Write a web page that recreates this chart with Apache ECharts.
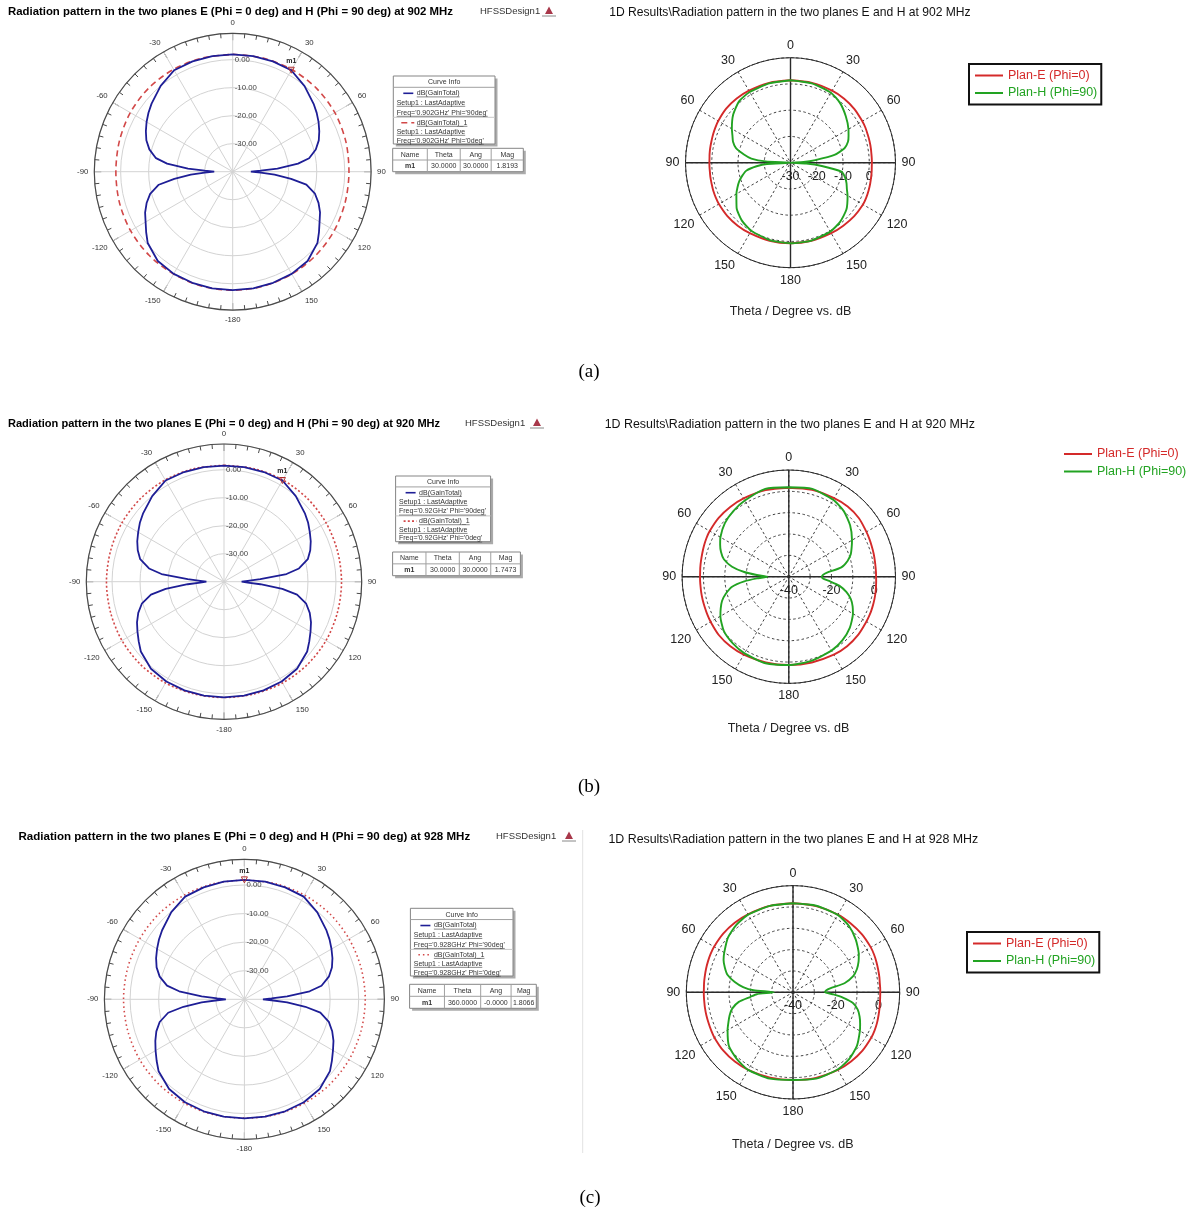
<!DOCTYPE html>
<html><head><meta charset="utf-8">
<script src="https://cdn.jsdelivr.net/npm/echarts@6/dist/echarts.min.js"></script>
<style>html,body{margin:0;padding:0;background:#fff}#c{width:1195px;height:1221px}</style>
</head><body><div id="c"></div>
<script>
// ================= DATA =================
const hfssTitles = [
  'Radiation pattern in the two planes E (Phi = 0 deg) and H (Phi = 90 deg) at 902 MHz',
  'Radiation pattern in the two planes E (Phi = 0 deg) and H (Phi = 90 deg) at 920 MHz',
  'Radiation pattern in the two planes E (Phi = 0 deg) and H (Phi = 90 deg) at 928 MHz'];
const cstTitles = [
  '1D Results\\Radiation pattern in the two planes E and H at 902 MHz',
  '1D Results\\Radiation pattern in the two planes E and H at 920 MHz',
  '1D Results\\Radiation pattern in the two planes E and H at 928 MHz'];
const captions = ['(a)', '(b)', '(c)'];
const designName = 'HFSSDesign1';
const cstXLabel = 'Theta / Degree vs. dB';
const cstSeriesNames = ['Plan-E (Phi=0)', 'Plan-H (Phi=90)'];
const hfssSeriesNames = ['dB(GainTotal)', 'dB(GainTotal)_1'];
const curveInfo = [
  ['dB(GainTotal)', 'Setup1 : LastAdaptive', "Freq='0.902GHz' Phi='90deg'", 'dB(GainTotal)_1', 'Setup1 : LastAdaptive', "Freq='0.902GHz' Phi='0deg'"],
  ['dB(GainTotal)', 'Setup1 : LastAdaptive', "Freq='0.92GHz' Phi='90deg'", 'dB(GainTotal)_1', 'Setup1 : LastAdaptive', "Freq='0.92GHz' Phi='0deg'"],
  ['dB(GainTotal)', 'Setup1 : LastAdaptive', "Freq='0.928GHz' Phi='90deg'", 'dB(GainTotal)_1', 'Setup1 : LastAdaptive', "Freq='0.928GHz' Phi='0deg'"]];
const markerHeader = ['Name', 'Theta', 'Ang', 'Mag'];
const markerRows = [['m1', '30.0000', '30.0000', '1.8193'], ['m1', '30.0000', '30.0000', '1.7473'], ['m1', '360.0000', '-0.0000', '1.8066']];
const markerTheta = [30, 30, 360];
const markerMag = [1.8193, 1.7473, 1.8066];

// angle tick labels (every 30 deg, clockwise from top)
const hfssTickLabels = ['0', '30', '60', '90', '120', '150', '-180', '-150', '-120', '-90', '-60', '-30'];
const cstTickLabels = ['0', '30', '60', '90', '120', '150', '180', '150', '120', '90', '60', '30'];
const hfssRingVals = [-30, -20, -10, 0];
const hfssRingText = ['-30.00', '-20.00', '-10.00', '0.00'];
const cstRingValsA = [-30, -20, -10, 0];
const cstRingTextA = ['-30', '-20', '-10', '0'];
const cstRingValsBC = [-40, -20, 0];
const cstRingTextBC = ['-40', '-20', '0'];

// HFSS curves (theta deg, dB)
const thetaHfss = [0,10,20,30,40,50,55,60,65,70,75,80,83,86,88,90,92,94,97,100,105,110,115,120,125,130,140,150,160,170,180,
  190,200,210,220,230,235,240,245,250,255,260,263,266,268,270,272,274,277,280,285,290,295,300,305,310,320,330,340,350,360];
const aBlue = [1.9,1.9,1.9,1.8,-0.1,-2.3,-3.4,-4.6,-5.9,-7.3,-9.3,-12.3,-16.5,-24,-30,-33.5,-30,-25,-19,-13.3,-9.6,-7.4,-5.6,-4.2,-2.4,-0.5,1.6,2.1,2.2,2.3,2.3,
  2.3,2.2,2.1,1.6,-0.4,-2.3,-4.1,-5.5,-7.3,-9.5,-13.2,-19,-25,-30,-33.4,-30,-24,-16.4,-12.2,-9.2,-7.2,-5.8,-4.5,-3.3,-2.2,0.0,1.8,1.9,1.9,1.9];
const bBlue = [1.5,1.6,1.7,1.75,-0.1,-2.2,-3.3,-4.6,-5.8,-7.2,-9.0,-12.8,-17.5,-27,-31.5,-33.7,-31.5,-27,-19,-13.5,-9.6,-7.4,-5.7,-4.3,-2.8,-1.2,0.6,1.2,1.3,1.3,1.3,
  1.3,1.3,1.2,0.6,-1.2,-2.8,-4.3,-5.7,-7.4,-9.6,-13.5,-19,-27,-31.5,-33.7,-31.5,-27,-17.5,-12.8,-9.0,-7.2,-5.8,-4.6,-3.3,-2.2,-0.1,1.75,1.7,1.6,1.5];
const cBlue = [1.8,1.8,1.7,1.5,-0.3,-2.5,-3.6,-4.8,-6.0,-7.4,-9.4,-12.6,-17,-25,-30.5,-33.5,-30.5,-25,-18.5,-13,-9.4,-7.3,-5.6,-4.2,-2.6,-0.9,1.0,1.6,1.7,1.7,1.7,
  1.7,1.7,1.6,1.0,-0.8,-2.5,-4.1,-5.6,-7.2,-9.3,-12.9,-18.5,-25,-30.5,-33.5,-30.5,-25,-17,-12.5,-9.3,-7.3,-5.9,-4.7,-3.5,-2.4,-0.2,1.5,1.7,1.8,1.8];
const thetaRed = [0,15,30,45,60,75,90,105,120,135,150,165,180,195,210,225,240,255,270,285,300,315,330,345,360];
const aRed = [1.9,2.0,2.1,2.2,2.1,1.8,1.5,1.6,1.9,2.1,2.2,2.3,2.3,2.3,2.2,2.2,2.1,1.9,1.7,1.9,2.2,2.3,2.2,2.0,1.9];
const bRed = [1.6,1.8,2.0,2.1,2.1,2.0,2.0,2.0,2.1,2.0,1.8,1.5,1.4,1.5,1.8,2.0,2.1,2.0,2.0,2.0,2.1,2.1,2.0,1.8,1.6];
const cRed = [1.8,1.9,2.1,2.3,2.3,2.3,2.3,2.3,2.3,2.2,2.0,1.8,1.6,1.8,2.0,2.2,2.3,2.3,2.3,2.3,2.3,2.3,2.1,1.9,1.8];

// CST curves (theta deg, dB)
const thetaCst = [0,15,30,40,50,60,65,70,75,80,84,87,90,93,96,100,105,110,115,120,130,140,150,165,180,
  195,210,220,230,240,245,250,255,260,264,267,270,273,276,280,285,290,295,300,310,320,330,345,360];
const aGreen = [1.4,1.3,0.8,-0.5,-2.5,-4.5,-5.6,-6.7,-8.7,-13,-20.5,-25,-30,-24,-18,-10.3,-8.5,-7.3,-6.3,-4.9,-2.2,-0.6,0.3,0.7,0.7,
  0.5,-0.1,-1.2,-3.2,-6.2,-7.7,-9.2,-11.0,-13,-17,-21,-30,-20.5,-15,-12,-8.5,-6.7,-5.6,-4.2,-1.5,0.5,1.1,1.3,1.4];
const aRedCst = [1.4,1.5,1.7,1.8,1.8,1.6,1.5,1.3,1.2,1.1,1.0,1.0,1.0,1.0,1.1,1.2,1.4,1.6,1.8,1.9,1.7,1.3,1.0,0.8,0.7,
  0.8,1.0,1.3,1.5,1.5,1.4,1.3,1.1,1.0,0.9,0.9,0.9,0.9,1.0,1.1,1.2,1.4,1.6,1.8,2.0,1.9,1.7,1.5,1.4];
const bGreen = [1.9,2.6,1.6,0.1,-2.5,-5.8,-7.5,-9.1,-11.5,-15,-22,-24,-24.5,-24,-21,-16,-12,-9.0,-7.0,-5.3,-2.7,-1.0,0.0,0.8,1.4,
  2.0,1.5,0.8,-0.3,-3.0,-4.8,-6.7,-9.5,-13,-19,-25,-30,-25,-19,-13,-8.5,-6.2,-4.5,-3.0,-0.9,0.3,1.2,2.6,1.9];
const bRedCst = [1.7,2.1,2.5,2.9,2.8,2.0,1.7,1.4,1.2,1.0,0.9,0.9,0.9,1.0,1.1,1.3,1.5,1.7,1.9,2.0,2.4,2.5,2.2,1.6,1.4,
  1.6,2.2,2.6,2.7,2.3,2.1,1.9,1.8,1.7,1.6,1.6,1.6,1.6,1.7,1.8,2.0,2.3,2.6,2.8,2.9,2.7,2.4,2.0,1.7];
const cGreen = [1.7,2.0,1.9,0.7,-1.6,-4.4,-6.1,-8.1,-10.8,-15.5,-22.5,-24.5,-25,-21,-16.5,-11.6,-8.6,-6.8,-5.3,-3.8,-0.9,0.9,1.8,1.9,1.1,
  1.9,2.0,0.9,-0.8,-4.6,-6.6,-8.4,-10.5,-14.2,-20,-23,-31,-21.5,-16.5,-12.3,-8.2,-6.0,-4.1,-2.8,-0.2,1.3,2.0,1.9,1.7];
const cRedCst = [1.7,1.8,2.0,2.1,2.2,2.1,1.9,1.6,1.3,1.1,0.9,0.9,0.9,0.9,1.0,1.2,1.5,1.9,2.2,2.4,2.5,2.3,2.0,1.5,1.1,
  1.4,2.0,2.4,2.6,2.5,2.3,2.1,2.0,1.9,1.8,1.8,1.8,1.8,1.9,2.0,2.2,2.4,2.6,2.7,2.7,2.5,2.2,1.9,1.7];

// ================= LAYOUT / STYLE =================
const FS = '"Liberation Sans", Arial, sans-serif';
const FSERIF = '"Liberation Serif", "Times New Roman", serif';
const C = {
  hfssBlue: '#1e1e96', hfssRed: '#d24848', hfssGrid: '#d3d3d3', hfssRing: '#4a4a4a',
  cstRed: '#d42a2a', cstGreen: '#22a322', cstGrid: '#2a2a2a', text: '#222'
};
const hfssPanels = [
  {cx: 232.7, cy: 171.7, r: 138.4, max: 9.4, redDash: [6, 4],
   title: {x: 8, y: 11.7, w: 445.3}, design: {x: 480, y: 11.7}, logo: {x: 549, y: 11},
   box: {x: 393.3, y: 76, w: 101.7, h: 68}, table: {x: 392.7, y: 148.3, w: 130.6, h: 23.4, cols: [0.265, 0.517, 0.754]}},
  {cx: 224, cy: 581.7, r: 137.7, max: 9.2, redDash: [2, 2.2],
   title: {x: 8, y: 423.5, w: 432.7}, design: {x: 465, y: 423.3}, logo: {x: 537, y: 423},
   box: {x: 395.6, y: 476, w: 95, h: 65.7}, table: {x: 392.6, y: 552, w: 127.8, h: 23.7, cols: [0.261, 0.522, 0.768]}},
  {cx: 244.4, cy: 999.3, r: 140, max: 9, redDash: [1.5, 3],
   title: {x: 18.5, y: 836.7, w: 451.9}, design: {x: 496, y: 836}, logo: {x: 569, y: 836},
   box: {x: 410.4, y: 908.3, w: 102.6, h: 67.7}, table: {x: 409.6, y: 984.3, w: 126.7, h: 24, cols: [0.275, 0.561, 0.801]}}
];
const cstPanels = [
  {cx: 790.5, cy: 162.7, r: 105, min: -30, ringVals: cstRingValsA, ringText: cstRingTextA,
   title: {x: 609.2, y: 13, w: 361.6}, xlabel: {x: 790.5, y: 311.7}, legend: {x: 969, y: 64, box: true}},
  {cx: 788.8, cy: 576.7, r: 106.7, min: -40, ringVals: cstRingValsBC, ringText: cstRingTextBC,
   title: {x: 604.7, y: 425, w: 370.6}, xlabel: {x: 788.5, y: 729}, legend: {x: 1064, y: 447.5, box: false}},
  {cx: 793, cy: 992.3, r: 106.7, min: -40, ringVals: cstRingValsBC, ringText: cstRingTextBC,
   title: {x: 608.4, y: 840, w: 370}, xlabel: {x: 792.7, y: 1145}, legend: {x: 967, y: 932, box: true}}
];
const captionPos = [{x: 589, y: 372}, {x: 589, y: 787}, {x: 590, y: 1198}];

// ================= HELPERS =================
const mctx = document.createElement('canvas').getContext('2d');
function measure(text, font) { mctx.font = font; return mctx.measureText(text).width; }
function fitSize(text, weight, family, width) { return 100 * width / measure(text, weight + ' 100px ' + family); }
function pairs(thetas, vals) { return thetas.map((t, i) => [vals[i], t]); }
function txt(x, y, s, font, fill, align, z) {
  return {type: 'text', x: x, y: y, z: z || 20, silent: true,
    style: {text: s, font: font, fill: fill || C.text, align: align || 'left', verticalAlign: 'middle'}};
}
function line(x1, y1, x2, y2, stroke, lw, dash, z) {
  return {type: 'line', z: z || 20, silent: true, shape: {x1, y1, x2, y2},
    style: {stroke, lineWidth: lw || 1, lineDash: dash || null}};
}
function rect(x, y, w, h, fill, stroke, z) {
  return {type: 'rect', z: z || 18, silent: true, shape: {x, y, width: w, height: h},
    style: {fill: fill || 'none', stroke: stroke || null, lineWidth: 1}};
}
function ringFormatter(vals, texts) {
  return v => { const k = vals.indexOf(Math.round(v * 1000) / 1000); return k < 0 ? '' : texts[k]; };
}
function tickFormatter(labels) {
  return v => (v >= 360 ? '' : labels[Math.round(v / 30)]);
}

// ================= BUILD =================
const polar = [], angleAxis = [], radiusAxis = [], series = [], legend = [], elements = [];
const hfssData = [[aBlue, aRed], [bBlue, bRed], [cBlue, cRed]];
const cstData = [[aRedCst, aGreen], [bRedCst, bGreen], [cRedCst, cGreen]];

for (let k = 0; k < 3; k++) {
  // ---------- HFSS (left) ----------
  const P = hfssPanels[k];
  let pi = polar.length;
  polar.push({center: [P.cx, P.cy], radius: P.r});
  angleAxis.push({polarIndex: pi, type: 'value', min: 0, max: 360, interval: 30, startAngle: 90, clockwise: true,
    axisLine: {show: true, lineStyle: {color: C.hfssRing, width: 1.2}},
    axisTick: {show: true, inside: true, length: 7, lineStyle: {color: C.hfssRing}},
    minorTick: {show: true, splitNumber: 6, length: 4.5, lineStyle: {color: C.hfssRing}},
    axisLabel: {show: true, margin: 6, fontSize: 7.8, color: '#333', fontFamily: FS, formatter: tickFormatter(hfssTickLabels)},
    splitLine: {show: true, lineStyle: {color: C.hfssGrid, width: 1}}});
  radiusAxis.push({polarIndex: pi, type: 'value', min: -40, max: P.max, interval: 10,
    axisLine: {show: false}, axisTick: {show: false},
    axisLabel: {show: true, margin: -2, align: 'left', verticalAlign: 'middle', fontSize: 7.8, color: '#444', fontFamily: FS,
      formatter: ringFormatter(hfssRingVals, hfssRingText)},
    splitLine: {show: true, lineStyle: {color: C.hfssGrid, width: 1}}});
  series.push({type: 'line', name: hfssSeriesNames[1], coordinateSystem: 'polar', polarIndex: pi, showSymbol: false, symbol: 'none',
    color: C.hfssRed, lineStyle: {color: C.hfssRed, width: 1.6, type: P.redDash}, z: 3,
    data: pairs(thetaRed, hfssData[k][1]), smooth: 0.3});
  series.push({type: 'line', name: hfssSeriesNames[0], coordinateSystem: 'polar', polarIndex: pi, showSymbol: false, symbol: 'none',
    color: C.hfssBlue, lineStyle: {color: C.hfssBlue, width: 1.8}, z: 4,
    data: pairs(thetaHfss, hfssData[k][0]),
    markPoint: {symbol: 'triangle', symbolSize: 6, symbolRotate: 180,
      itemStyle: {color: 'rgba(0,0,0,0)', borderColor: '#b03030', borderWidth: 1},
      label: {show: true, position: 'top', distance: 2, formatter: markerRows[k][0], fontSize: 7, fontWeight: 'bold', color: '#222', fontFamily: FS},
      data: [{coord: [markerMag[k], markerTheta[k]]}]}});

  // title, design name, logo
  const tFont = 'bold ' + fitSize(hfssTitles[k], 'bold', FS, P.title.w).toFixed(2) + 'px ' + FS;
  elements.push(txt(P.title.x, P.title.y, hfssTitles[k], tFont, '#000'));
  elements.push(txt(P.design.x, P.design.y, designName, '9.5px ' + FS, '#333'));
  elements.push({type: 'polygon', z: 20, silent: true, shape: {points: [[P.logo.x - 4, P.logo.y + 3], [P.logo.x, P.logo.y - 4.5], [P.logo.x + 4, P.logo.y + 3]]}, style: {fill: '#a8384a'}});
  elements.push(line(P.logo.x - 7, P.logo.y + 5, P.logo.x + 7, P.logo.y + 5, '#888', 1));

  // curve info box
  const B = P.box, s = B.h / 68, ci = curveInfo[k], f7 = '7px ' + FS;
  elements.push(rect(B.x + 2.5, B.y + 2.5, B.w, B.h, '#ababab', null, 17));
  elements.push(rect(B.x, B.y, B.w, B.h, '#fff', '#858585', 18));
  elements.push(txt(B.x + B.w / 2, B.y + 6.3 * s, 'Curve Info', f7, '#333', 'center'));
  elements.push(line(B.x, B.y + 11.3 * s, B.x + B.w, B.y + 11.3 * s, '#a0a0a0', 1));
  elements.push(line(B.x, B.y + 41.3 * s, B.x + B.w, B.y + 41.3 * s, '#c8c8c8', 1));
  const rows = [[17.3, 23.5], [26.7, 3.4], [36.7, 3.4], [46.7, 23.5], [55.7, 3.4], [64.7, 3.4]];
  rows.forEach((rw, j) => {
    const yy = B.y + rw[0] * s, xx = B.x + rw[1];
    elements.push(txt(xx, yy, ci[j], f7, '#333'));
    const w = measure(ci[j], f7);
    elements.push(line(xx, yy + 3.6, xx + w, yy + 3.6, '#555', 0.7));
  });
  elements.push(line(B.x + 10, B.y + 17.3 * s, B.x + 20, B.y + 17.3 * s, C.hfssBlue, 1.6));
  elements.push(line(B.x + 8, B.y + 46.7 * s, B.x + 21, B.y + 46.7 * s, C.hfssRed, 1.6, P.redDash));

  // marker table
  const T = P.table, xs = [0].concat(T.cols, [1]).map(f => T.x + f * T.w);
  elements.push(rect(T.x + 2.5, T.y + 2.5, T.w, T.h, '#ababab', null, 17));
  elements.push(rect(T.x, T.y, T.w, T.h, '#fff', '#858585', 18));
  elements.push(line(T.x, T.y + T.h / 2, T.x + T.w, T.y + T.h / 2, '#a0a0a0', 1));
  for (let c = 1; c < 4; c++) elements.push(line(xs[c], T.y, xs[c], T.y + T.h, '#a0a0a0', 1));
  for (let c = 0; c < 4; c++) {
    const xm = (xs[c] + xs[c + 1]) / 2;
    elements.push(txt(xm, T.y + T.h * 0.27, markerHeader[c], f7, '#333', 'center'));
    elements.push(txt(xm, T.y + T.h * 0.77, markerRows[k][c], (c === 0 ? 'bold ' : '') + f7, '#333', 'center'));
  }

  // ---------- CST (right) ----------
  const Q = cstPanels[k];
  pi = polar.length;
  polar.push({center: [Q.cx, Q.cy], radius: Q.r});
  angleAxis.push({polarIndex: pi, type: 'value', min: 0, max: 360, interval: 30, startAngle: 90, clockwise: true,
    axisLine: {show: true, lineStyle: {color: C.cstGrid, width: 1}}, axisTick: {show: false},
    axisLabel: {show: true, margin: 6, fontSize: 12.5, color: C.text, fontFamily: FS, formatter: tickFormatter(cstTickLabels)},
    splitLine: {show: true, lineStyle: {color: C.cstGrid, width: 0.9, type: [2.5, 2.5]}}});
  radiusAxis.push({polarIndex: pi, type: 'value', min: Q.min, max: 10, interval: 10,
    axisLine: {show: false}, axisTick: {show: false}, axisLabel: {show: false},
    splitLine: {show: true, lineStyle: {color: C.cstGrid, width: 0.9, type: [2.5, 2.5]}}});
  // overlay polar for the solid cross and the dB labels
  polar.push({center: [Q.cx, Q.cy], radius: Q.r});
  angleAxis.push({polarIndex: pi + 1, type: 'value', min: 0, max: 360, interval: 90, startAngle: 0, clockwise: true,
    axisLine: {show: false}, axisTick: {show: false}, axisLabel: {show: false},
    splitLine: {show: true, lineStyle: {color: '#2a2a2a', width: 1.4}}});
  radiusAxis.push({polarIndex: pi + 1, type: 'value', min: Q.min, max: 10, interval: 10,
    axisLine: {show: false}, axisTick: {show: false}, splitLine: {show: false},
    axisLabel: {show: true, margin: -7, verticalAlign: 'top', fontSize: 12.5, color: C.text, fontFamily: FS,
      formatter: ringFormatter(Q.ringVals, Q.ringText)}});
  series.push({type: 'line', name: cstSeriesNames[0], coordinateSystem: 'polar', polarIndex: pi, showSymbol: false, symbol: 'none',
    color: C.cstRed, lineStyle: {color: C.cstRed, width: 1.9}, z: 3, smooth: 0.3,
    data: pairs(thetaCst, cstData[k][0])});
  series.push({type: 'line', name: cstSeriesNames[1], coordinateSystem: 'polar', polarIndex: pi, showSymbol: false, symbol: 'none',
    color: C.cstGreen, lineStyle: {color: C.cstGreen, width: 1.9}, z: 4, smooth: 0.2,
    data: pairs(thetaCst, cstData[k][1])});

  const ctFont = fitSize(cstTitles[k], 'normal', FS, Q.title.w).toFixed(2) + 'px ' + FS;
  elements.push(txt(Q.title.x, Q.title.y, cstTitles[k], ctFont, '#111'));
  elements.push(txt(Q.xlabel.x, Q.xlabel.y, cstXLabel, '12.5px ' + FS, '#222', 'center'));
  legend.push({show: true, left: Q.legend.x, top: Q.legend.y, orient: 'vertical', selectedMode: false,
    borderColor: Q.legend.box ? '#111' : 'transparent', borderWidth: Q.legend.box ? 2 : 0,
    backgroundColor: '#fff', padding: Q.legend.box ? [5, 4, 5, 6] : 0, itemGap: 4.5,
    itemWidth: 28, itemHeight: 2, icon: 'rect',
    textStyle: {fontSize: 12.5, fontFamily: FS},
    data: [{name: cstSeriesNames[0], textStyle: {color: C.cstRed}}, {name: cstSeriesNames[1], textStyle: {color: C.cstGreen}}]});

  // caption
  elements.push(txt(captionPos[k].x, captionPos[k].y, captions[k], '19px ' + FSERIF, '#000', 'center'));
}
// thin separator in row (c)
elements.push(line(582.7, 830, 582.7, 1153, '#e2e2e2', 1));

const chart = echarts.init(document.getElementById('c'), null, {renderer: 'canvas'});
chart.setOption({
  animation: false, backgroundColor: '#fff',
  polar, angleAxis, radiusAxis, series, legend,
  graphic: {elements}
});
</script></body></html>
